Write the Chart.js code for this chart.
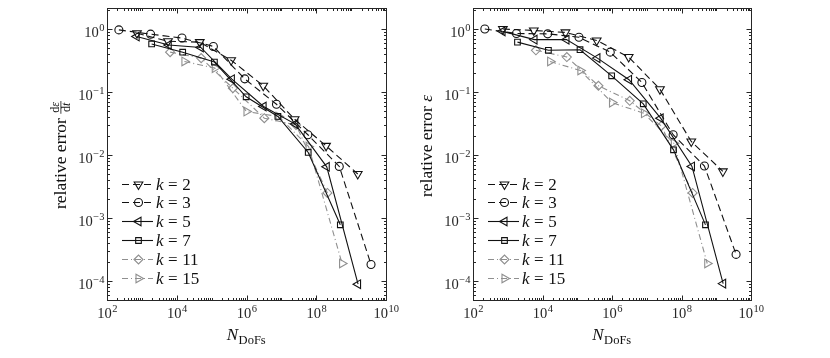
<!DOCTYPE html>
<html>
<head>
<meta charset="utf-8">
<script src="https://cdn.jsdelivr.net/npm/chart.js@4.4.1/dist/chart.umd.min.js"></script>
<style>
  html, body { margin: 0; padding: 0; background: #fff; }
  #wrap { position: relative; width: 830px; height: 358px; }
  .panel { position: absolute; top: 0; width: 415px; height: 358px; }
</style>
</head>
<body>
<div id="wrap">
  <div class="panel" style="left:0"><canvas id="c-dedt" width="415" height="358"></canvas></div>
  <div class="panel" style="left:415px"><canvas id="c-eps" width="415" height="358"></canvas></div>
</div>
<script>
// --- degrees of freedom per polynomial degree k ---
const dofsK2  = [724, 5623, 45709, 363078, 3.02e6, 2.40e7, 1.91e8, 1.55e9];
const dofsK3  = [219, 1778, 14125, 112202, 891251, 7.24e6, 5.75e7, 4.57e8, 3.72e9];
const dofsK5  = [708, 5888, 48978, 380189, 3.09e6, 2.51e7, 2.00e8, 1.58e9];
const dofsK7  = [1905, 14791, 120226, 977237, 7.94e6, 5.89e7, 4.90e8];
const dofsK11 = [6457, 50119, 407380, 3.24e6, 2.63e7, 2.09e8];
const dofsK15 = [16596, 123027, 1.0e6, 8.32e6, 6.03e7, 5.50e8];

// --- left panel: relative error of de/dt ---
const dedtK2  = [0.86, 0.64, 0.62, 0.32, 0.126, 0.037, 0.014, 0.005];
const dedtK3  = [0.97, 0.83, 0.72, 0.53, 0.162, 0.064, 0.021, 0.0066, 1.83e-4];
const dedtK5  = [0.76, 0.56, 0.51, 0.16, 0.059, 0.031, 0.0065, 8.9e-5];
const dedtK7  = [0.58, 0.43, 0.30, 0.084, 0.041, 0.011, 7.8e-4];
const dedtK11 = [0.43, 0.346, 0.115, 0.0385, 0.030, 0.0025];
const dedtK15 = [0.306, 0.24, 0.049, 0.041, 0.0136, 1.9e-4];

// --- right panel: relative error eps ---
const epsK2  = [1.0, 0.95, 0.885, 0.66, 0.36, 0.111, 0.0164, 0.0055];
const epsK3  = [1.0, 0.85, 0.84, 0.74, 0.43, 0.142, 0.021, 0.0067, 2.65e-4];
const epsK5  = [0.92, 0.68, 0.68, 0.346, 0.157, 0.0385, 0.0066, 9.1e-5];
const epsK7  = [0.62, 0.46, 0.47, 0.181, 0.065, 0.0121, 7.8e-4];
const epsK11 = [0.46, 0.36, 0.126, 0.0726, 0.029, 0.0025];
const epsK15 = [0.306, 0.22, 0.068, 0.046, 0.0154, 1.9e-4];

const kLabels   = ['2', '3', '5', '7', '11', '15'];
const xTickExps = [2, 4, 6, 8, 10];
const yTickExps = [-4, -3, -2, -1, 0];

// styles per series (same order as kLabels)
const GRAY = '#8f8f8f', INK = '#111', AXIS = '#262626';
const seriesStyle = [
  { color: INK,  dash: [7, 4],       pointStyle: 'triangle', rotation: 180, radius: 5 },
  { color: INK,  dash: [7, 4],       pointStyle: 'circle',   rotation: 0,   radius: 4 },
  { color: INK,  dash: [],           pointStyle: 'triangle', rotation: 270, radius: 5 },
  { color: INK,  dash: [],           pointStyle: 'rect',     rotation: 0,   radius: 4 },
  { color: GRAY, dash: [6, 3, 1, 3], pointStyle: 'rectRot',  rotation: 0,   radius: 4.5 },
  { color: GRAY, dash: [6, 3, 1, 3], pointStyle: 'triangle', rotation: 90,  radius: 5 }
];

const FONT = '"Liberation Serif", "DejaVu Serif", serif';

function makeDatasets(dofs, vals) {
  return vals.map((v, i) => {
    const s = seriesStyle[i];
    return {
      label: 'k = ' + kLabels[i],
      data: dofs[i].map((n, j) => ({ x: n, y: v[j] })),
      borderColor: s.color,
      borderWidth: 1.1,
      borderDash: s.dash,
      pointStyle: s.pointStyle,
      pointRotation: s.rotation,
      pointRadius: s.radius,
      pointBorderColor: s.color,
      pointBackgroundColor: 'rgba(0,0,0,0)',
      pointBorderWidth: 1.1,
      tension: 0,
      fill: false
    };
  });
}

// draws "10" with a raised exponent
function drawPow(ctx, exp, x, y, align) {
  const e = exp < 0 ? '\u2212' + (-exp) : String(exp);
  ctx.font = '14.5px ' + FONT;
  const bw = ctx.measureText('10').width;
  ctx.font = '10.5px ' + FONT;
  const ew = ctx.measureText(e).width;
  const x0 = align === 'right' ? x - bw - ew : x - (bw + ew) / 2;
  ctx.font = '14.5px ' + FONT;
  ctx.fillText('10', x0, y);
  ctx.font = '10.5px ' + FONT;
  ctx.fillText(e, x0 + bw + 0.5, y - 6);
}

function drawMarker(ctx, s, x, y) {
  ctx.fillStyle = 'rgba(0,0,0,0)';
  ctx.strokeStyle = s.color;
  ctx.lineWidth = 1.1;
  Chart.helpers.drawPoint(ctx, {
    pointStyle: s.pointStyle, rotation: s.rotation, radius: s.radius, borderWidth: 1.1
  }, x, y);
}

const decor = {
  id: 'decor',
  afterDatasetsDraw(chart, args, opts) {
    const ctx = chart.ctx, a = chart.chartArea;
    const sx = chart.scales.x, sy = chart.scales.y;
    ctx.save();
    ctx.strokeStyle = AXIS;
    ctx.fillStyle = AXIS;
    ctx.lineWidth = 1;
    ctx.setLineDash([]);
    const L = Math.round(a.left) + 0.5, R = Math.round(a.right) + 0.5;
    const T = Math.round(a.top) + 0.5, B = Math.round(a.bottom) + 0.5;
    ctx.strokeRect(L, T, R - L, B - T);

    // x ticks, inward on bottom and top
    ctx.beginPath();
    for (let e = 2; e < 10; e++) {
      for (let m = 1; m < 10; m++) {
        const px = Math.round(sx.getPixelForValue(m * Math.pow(10, e))) + 0.5;
        const len = (m === 1 && e % 2 === 0) ? 5 : 2.5;
        ctx.moveTo(px, B); ctx.lineTo(px, B - len);
        ctx.moveTo(px, T); ctx.lineTo(px, T + len);
      }
    }
    // y ticks, inward on left and right
    for (let e = -5; e <= 0; e++) {
      for (let m = 1; m < 10; m++) {
        const v = m * Math.pow(10, e);
        if (v < sy.min || v > sy.max) continue;
        const py = Math.round(sy.getPixelForValue(v)) + 0.5;
        const len = m === 1 ? 5 : 2.5;
        ctx.moveTo(L, py); ctx.lineTo(L + len, py);
        ctx.moveTo(R, py); ctx.lineTo(R - len, py);
      }
    }
    ctx.stroke();

    // tick labels
    ctx.textBaseline = 'alphabetic';
    ctx.textAlign = 'left';
    xTickExps.forEach(e => drawPow(ctx, e, sx.getPixelForValue(Math.pow(10, e)), a.bottom + 18, 'center'));
    yTickExps.forEach(e => drawPow(ctx, e, a.left - 3, sy.getPixelForValue(Math.pow(10, e)) + 7.5, 'right'));

    // x title: N_DoFs
    ctx.fillStyle = INK;
    ctx.font = 'italic 17px ' + FONT;
    const nw = ctx.measureText('N').width;
    ctx.font = '12.5px ' + FONT;
    const sw = ctx.measureText('DoFs').width;
    const cx = (a.left + a.right) / 2;
    const x0 = cx - (nw + sw + 1) / 2;
    ctx.font = 'italic 17px ' + FONT;
    ctx.fillText('N', x0, a.bottom + 40);
    ctx.font = '12.5px ' + FONT;
    ctx.fillText('DoFs', x0 + nw + 0.5, a.bottom + 44);

    // y title
    ctx.save();
    ctx.translate(a.left - 41, opts.titleCenter);
    ctx.rotate(-Math.PI / 2);
    ctx.font = '17.5px ' + FONT;
    const main = 'relative error ';
    const mw = ctx.measureText(main).width;
    if (opts.kind === 'dedt') {
      ctx.font = '12px ' + FONT;
      const dW = ctx.measureText('d').width;
      ctx.font = 'italic 12px ' + FONT;
      const epW = ctx.measureText('\u03b5').width;
      const tW = ctx.measureText('t').width;
      const fw = Math.max(dW + epW, dW + tW) + 2;
      const sx0 = -(mw + fw) / 2;
      ctx.font = '17.5px ' + FONT;
      ctx.fillText(main, sx0, 0);
      const fx = sx0 + mw;
      ctx.fillRect(fx, -5.5, fw, 0.8);
      const nx = fx + (fw - dW - epW) / 2;
      ctx.font = '12px ' + FONT;
      ctx.fillText('d', nx, -7.5);
      ctx.font = 'italic 12px ' + FONT;
      ctx.fillText('\u03b5', nx + dW, -7.5);
      const dx = fx + (fw - dW - tW) / 2;
      ctx.font = '12px ' + FONT;
      ctx.fillText('d', dx, 4);
      ctx.font = 'italic 12px ' + FONT;
      ctx.fillText('t', dx + dW, 4);
    } else {
      ctx.font = 'italic 17.5px ' + FONT;
      const ew = ctx.measureText('\u03b5').width;
      const sx0 = -(mw + ew) / 2;
      ctx.font = '17.5px ' + FONT;
      ctx.fillText(main, sx0, 0);
      ctx.font = 'italic 17.5px ' + FONT;
      ctx.fillText('\u03b5', sx0 + mw, 0);
    }
    ctx.restore();

    // legend, inside lower left
    seriesStyle.forEach((s, i) => {
      const y = Math.round(a.bottom - 116.5 + i * 18.8) + 0.5;
      const lx = a.left + 15, rx = a.left + 46, mx = a.left + 31.5;
      ctx.strokeStyle = s.color;
      ctx.lineWidth = 1.1;
      ctx.setLineDash(s.dash);
      ctx.beginPath();
      ctx.moveTo(lx, y);
      ctx.lineTo(rx, y);
      ctx.stroke();
      ctx.setLineDash([]);
      drawMarker(ctx, s, mx, y);
      ctx.fillStyle = INK;
      let tx = a.left + 49;
      ctx.font = 'italic 17px ' + FONT;
      ctx.fillText('k', tx, y + 5.5);
      tx += ctx.measureText('k').width + 4.5;
      ctx.font = '17px ' + FONT;
      ctx.fillText('=', tx, y + 5.5);
      tx += ctx.measureText('=').width + 4.5;
      ctx.fillText(kLabels[i], tx, y + 5.5);
    });
    ctx.restore();
  }
};

function makeChart(id, dofs, vals, pad, kind, titleCenter) {
  return new Chart(document.getElementById(id), {
    type: 'line',
    data: { datasets: makeDatasets(dofs, vals) },
    options: {
      responsive: false,
      animation: false,
      devicePixelRatio: 1,
      layout: { padding: pad },
      plugins: {
        legend: { display: false },
        tooltip: { enabled: false },
        decor: { kind, titleCenter }
      },
      scales: {
        x: { type: 'logarithmic', min: 1e2, max: 1e10, display: false },
        y: { type: 'logarithmic', min: 5e-5, max: 2.16, display: false }
      }
    },
    plugins: [decor]
  });
}

const allDofs = [dofsK2, dofsK3, dofsK5, dofsK7, dofsK11, dofsK15];
makeChart('c-dedt', allDofs, [dedtK2, dedtK3, dedtK5, dedtK7, dedtK11, dedtK15],
  { left: 107, right: 29, top: 8, bottom: 58 }, 'dedt', 155);
makeChart('c-eps', allDofs, [epsK2, epsK3, epsK5, epsK7, epsK11, epsK15],
  { left: 58, right: 79, top: 8, bottom: 58 }, 'eps', 146);
</script>
</body>
</html>
